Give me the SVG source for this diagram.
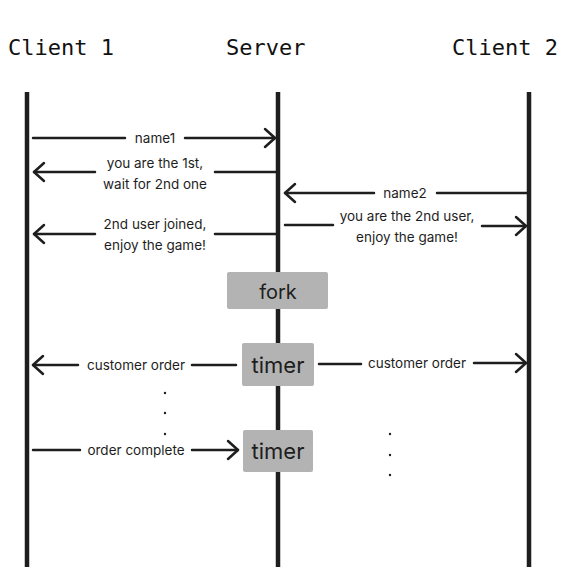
<svg xmlns="http://www.w3.org/2000/svg" width="566" height="575" viewBox="0 0 566 575">
<defs>
<style>
.hdr{font-family:"DejaVu Sans Mono","Liberation Mono",monospace;font-size:22px;fill:#111;}
.lbl{font-family:Inter,"Liberation Sans",sans-serif;font-size:13.5px;fill:#1e1e1e;text-anchor:middle;}
.life{stroke:#1e1e1e;stroke-width:4.5;fill:none;}
.msg{stroke:#1e1e1e;stroke-width:2.5;fill:none;stroke-linecap:round;}
.head{stroke:#1e1e1e;stroke-width:2.5;fill:none;stroke-linecap:round;stroke-linejoin:round;}
.box{fill:#b3b3b3;}
.btxt{font-family:Inter,"Liberation Sans",sans-serif;fill:#1e1e1e;text-anchor:middle;}
.dot{fill:#1e1e1e;}
</style>
</defs>
<rect width="566" height="575" fill="#fff"/>
<g id="client1">
<text class="hdr" x="8" y="55">Client 1</text>
<line class="life" x1="27" y1="92" x2="27" y2="567"/>
</g>
<g id="server">
<text class="hdr" x="226" y="55">Server</text>
<line class="life" x1="278" y1="92" x2="278" y2="272"/>
<line class="life" x1="278" y1="309" x2="278" y2="343"/>
<line class="life" x1="278" y1="386" x2="278" y2="430"/>
<line class="life" x1="278" y1="472" x2="278" y2="567"/>
</g>
<g id="client2">
<text class="hdr" x="452" y="55">Client 2</text>
<line class="life" x1="529" y1="92" x2="529" y2="567"/>
</g>
<g id="fork">
<rect class="box" x="227" y="272" width="101" height="37" rx="2"/>
<text class="btxt" x="278" y="299" font-size="20">fork</text>
</g>
<g id="timer1">
<rect class="box" x="242" y="343" width="72" height="43" rx="2"/>
<text class="btxt" x="278" y="373" font-size="22">timer</text>
</g>
<g id="timer2">
<rect class="box" x="243" y="430" width="70" height="42" rx="2"/>
<text class="btxt" x="278" y="459" font-size="22">timer</text>
</g>
<g id="connectors">
<line class="msg" x1="33" y1="138" x2="125" y2="138"/>
<line class="msg" x1="185" y1="138" x2="275" y2="138"/>
<polyline class="head" points="265,129 275,138 265,147"/>
<text class="lbl" x="155" y="143">name1</text>

<line class="msg" x1="34" y1="172" x2="95" y2="172"/>
<line class="msg" x1="215" y1="172" x2="276" y2="172"/>
<polyline class="head" points="44,163 34,172 44,181"/>
<text class="lbl" x="155" y="168">you are the 1st,</text>
<text class="lbl" x="155" y="189">wait for 2nd one</text>

<line class="msg" x1="285" y1="193" x2="374" y2="193"/>
<line class="msg" x1="437" y1="193" x2="527" y2="193"/>
<polyline class="head" points="295,184 285,193 295,202"/>
<text class="lbl" x="405" y="198">name2</text>

<line class="msg" x1="34" y1="234" x2="95" y2="234"/>
<line class="msg" x1="215" y1="234" x2="276" y2="234"/>
<polyline class="head" points="44,225 34,234 44,243"/>
<text class="lbl" x="155" y="229">2nd user joined,</text>
<text class="lbl" x="155" y="250">enjoy the game!</text>

<line class="msg" x1="285" y1="225" x2="333" y2="225"/>
<line class="msg" x1="482" y1="226" x2="526" y2="226"/>
<polyline class="head" points="516,217 526,226 516,235"/>
<text class="lbl" x="407" y="221">you are the 2nd user,</text>
<text class="lbl" x="407" y="242">enjoy the game!</text>

<line class="msg" x1="33" y1="365" x2="78" y2="365"/>
<line class="msg" x1="192" y1="365" x2="236" y2="365"/>
<polyline class="head" points="43,356 33,365 43,374"/>
<text class="lbl" x="136" y="370">customer order</text>

<line class="msg" x1="319" y1="364" x2="361" y2="364"/>
<line class="msg" x1="474" y1="363" x2="526" y2="363"/>
<polyline class="head" points="516,354 526,363 516,372"/>
<text class="lbl" x="417" y="368">customer order</text>

<line class="msg" x1="33" y1="450" x2="80" y2="450"/>
<line class="msg" x1="192" y1="450" x2="238" y2="450"/>
<polyline class="head" points="228,441 238,450 228,459"/>
<text class="lbl" x="136" y="455">order complete</text>
</g>
<g id="dots">
<circle class="dot" cx="165" cy="393" r="1.2"/>
<circle class="dot" cx="165" cy="413" r="1.2"/>
<circle class="dot" cx="165" cy="434" r="1.2"/>
<circle class="dot" cx="390" cy="434" r="1.2"/>
<circle class="dot" cx="390" cy="455" r="1.2"/>
<circle class="dot" cx="390" cy="475" r="1.2"/>
</g>
</svg>
